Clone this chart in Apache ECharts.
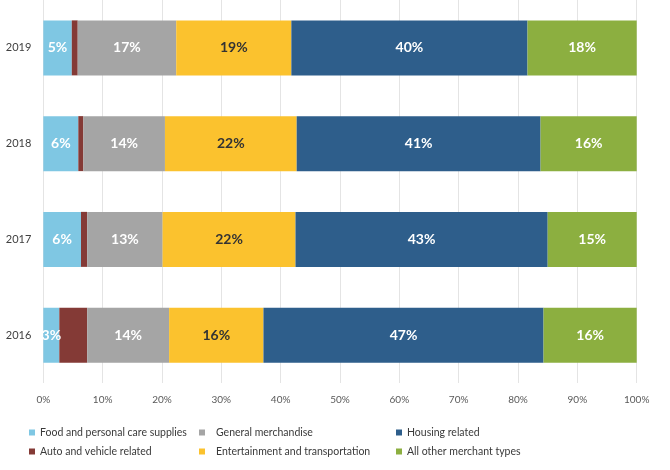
<!DOCTYPE html>
<html><head><meta charset="utf-8">
<script src="https://cdn.jsdelivr.net/npm/echarts@6/dist/echarts.min.js"></script>
<style>html,body{margin:0;padding:0;background:#fff}#c{width:670px;height:470px}</style>
</head><body><div id="c"></div>
<script>
const years = ['2016', '2017', '2018', '2019'];
const food = [2.7, 6.35, 5.9, 4.8];
const auto = [4.7, 1.05, 0.85, 1.0];
const general = [13.8, 12.7, 13.75, 16.6];
const entertainment = [15.9, 22.4, 22.2, 19.4];
const housing = [47.2, 42.5, 41.1, 39.8];
const other = [15.7, 15.0, 16.2, 18.4];
const xTicks = [0, 10, 20, 30, 40, 50, 60, 70, 80, 90, 100];

const FONT = 'Lato';
function mk(name, data, color, labelColor) {
  return {
    name, type: 'bar', stack: 't', data, barWidth: 55,
    itemStyle: { color },
    label: labelColor ? {
      show: true, position: 'inside', color: labelColor, fontWeight: 'bold',
      fontSize: 14, fontFamily: FONT,
      formatter: p => Math.round(p.value) + '%'
    } : { show: false },
    emphasis: { disabled: true }
  };
}
const chart = echarts.init(document.getElementById('c'));
chart.setOption({
  animation: false,
  grid: { left: 43.3, right: 33.3, top: 0, height: 383 },
  xAxis: {
    type: 'value', min: 0, max: 100, interval: 10,
    axisLine: { show: false }, axisTick: { show: false },
    splitLine: { lineStyle: { color: '#e4e4e4', width: 1 } },
    axisLabel: { formatter: v => xTicks.includes(v) ? v + '%' : '', color: '#595959', fontSize: 10, fontFamily: FONT, margin: 12 }
  },
  yAxis: {
    type: 'category', data: years,
    axisLine: { show: false }, axisTick: { show: false },
    axisLabel: { color: '#404040', fontSize: 11, fontFamily: FONT, margin: 12 }
  },
  legend: [
    { data: ['Food and personal care supplies', 'Auto and vehicle related'], left: 29, tp: 0 },
    { data: ['General merchandise', 'Entertainment and transportation'], left: 199, tp: 6 },
    { data: ['Housing related', 'All other merchant types'], left: 396, tp: 0 }
  ].map(l => ({
    data: l.data, left: l.left,
    top: 427, padding: 0,
    orient: 'vertical', itemWidth: 6, itemHeight: 6, itemGap: 8, icon: 'rect',
    selectedMode: false,
    textStyle: { color: '#3a3a3a', fontSize: 10.5, fontFamily: FONT, padding: [0, 0, 0, l.tp] }
  })),
  series: [
    mk('Food and personal care supplies', food, '#7fc7e3', '#ffffff'),
    mk('Auto and vehicle related', auto, '#843a36', null),
    mk('General merchandise', general, '#a5a5a5', '#ffffff'),
    mk('Entertainment and transportation', entertainment, '#fbc22e', '#333333'),
    mk('Housing related', housing, '#2e5e8b', '#ffffff'),
    mk('All other merchant types', other, '#8caf40', '#ffffff')
  ]
});
</script></body></html>
